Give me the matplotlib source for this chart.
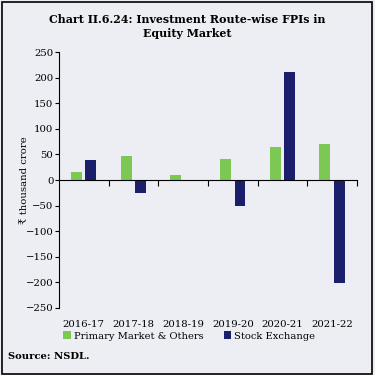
import numpy as np
import matplotlib.pyplot as plt
from matplotlib.patches import Rectangle

years = ['2016-17', '2017-18', '2018-19', '2019-20', '2020-21', '2021-22']
primary = [15, 47, 9, 42, 64, 71]
stock = [40, -25, 0, -51, 212, -202]

green = '#7dc855'
navy = '#1b1f6b'
bg = '#eceef3'

plt.rcParams['font.family'] = ['DejaVu Serif', 'DejaVu Sans']

fig = plt.figure(figsize=(3.75, 3.75), dpi=100, facecolor=bg)
ax = fig.add_axes([0.157, 0.179, 0.795, 0.682])
ax.set_facecolor(bg)

x = np.arange(len(years))
w = 0.22
ax.bar(x - 0.145, primary, w, color=green, label='Primary Market & Others')
ax.bar(x + 0.145, stock, w, color=navy, label='Stock Exchange')

ax.set_xlim(-0.5, len(years) - 0.5)
ax.set_ylim(-250, 250)
ax.set_yticks(np.arange(-250, 251, 50))
ax.tick_params(axis='y', labelsize=7.3, length=3, width=0.8, pad=1)

ax.spines['top'].set_visible(False)
ax.spines['right'].set_visible(False)
ax.spines['bottom'].set_position(('data', 0))
ax.set_xticks(x)
ax.set_xticklabels(years)
ax.tick_params(axis='x', which='major', length=0, labelsize=7.3, pad=101)
ax.set_xticks(np.arange(0.5, len(years), 1), minor=True)
ax.tick_params(axis='x', which='minor', length=4, width=0.8, direction='out')

ax.set_ylabel('₹ thousand crore', fontsize=7.3)
ax.yaxis.set_label_coords(-0.1, 0.5)

fig.text(0.5, 0.962, 'Chart II.6.24: Investment Route-wise FPIs in\nEquity Market',
         ha='center', va='top', fontsize=7.9, fontweight='bold', linespacing=1.35)

fig.legend(loc='center', bbox_to_anchor=(0.505, 0.104), ncol=2, frameon=False,
           fontsize=7.1, handlelength=0.8, handleheight=0.8, handletextpad=0.3,
           columnspacing=2.0)

fig.text(0.022, 0.05, 'Source: NSDL.', fontsize=7.2, fontweight='bold', va='center')

fig.patches.append(Rectangle((0.004, 0.004), 0.988, 0.992, transform=fig.transFigure,
                             fill=False, edgecolor='black', linewidth=1.2))

fig.savefig('out.png', dpi=100, facecolor=bg)
